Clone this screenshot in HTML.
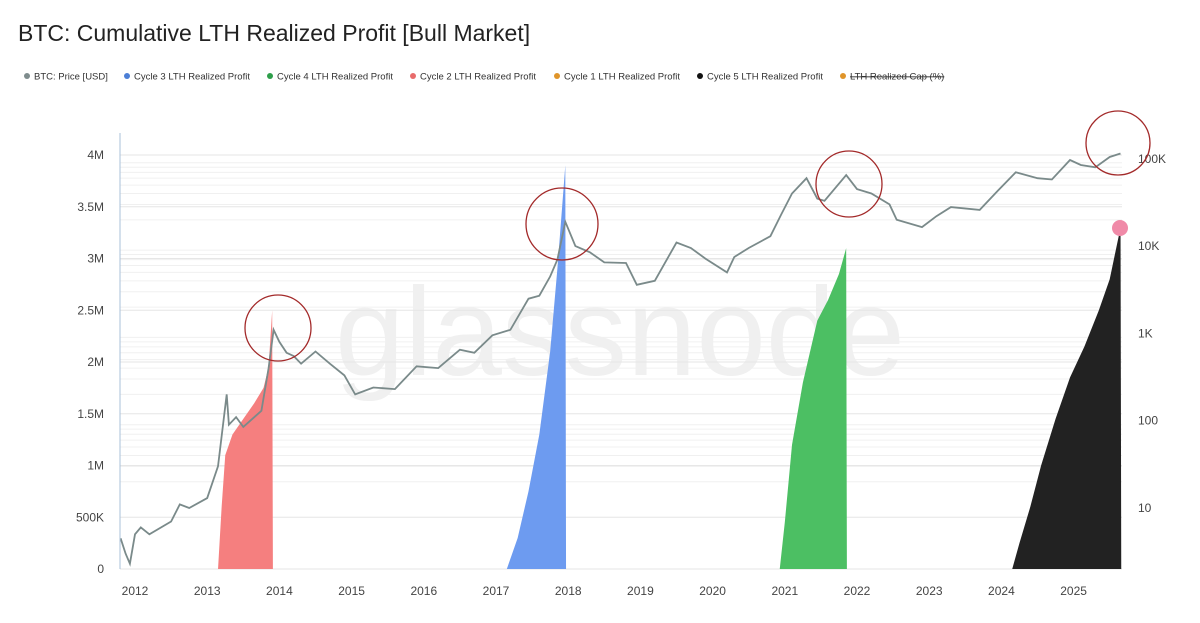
<!DOCTYPE html>
<html><head><meta charset="utf-8"><style>
body{margin:0;background:#fff;width:1200px;height:623px;overflow:hidden;font-family:"Liberation Sans",sans-serif}
</style></head><body>
<svg width="1200" height="623" style="position:absolute;left:0;top:0">
<text x="18" y="41" font-size="23" fill="#222">BTC: Cumulative LTH Realized Profit [Bull Market]</text>
<g id="legend" font-size="9.5" fill="#333"></g>
<text x="620" y="375" font-size="125" fill="#f0f0f0" text-anchor="middle">glassnode</text>
<g id="grid"></g>
<g id="areas"></g>
<g id="price"></g>
<g id="axes" font-size="12" fill="#444"></g>
<g id="ann"></g>
</svg>
<script>
const years=[2012,2013,2014,2015,2016,2017,2018,2019,2020,2021,2022,2023,2024,2025];
const leftTicks=[0,0.5,1,1.5,2,2.5,3,3.5,4];
const leftLabels=["0","500K","1M","1.5M","2M","2.5M","3M","3.5M","4M"];
const rightTicks=[10,100,1000,10000,100000];
const rightLabels=["10","100","1K","10K","100K"];
const priceDates=[2011.8,2011.87,2011.93,2012.0,2012.08,2012.2,2012.5,2012.62,2012.75,2013.0,2013.15,2013.27,2013.3,2013.4,2013.5,2013.75,2013.85,2013.92,2014.0,2014.1,2014.2,2014.3,2014.5,2014.7,2014.9,2015.05,2015.3,2015.6,2015.9,2016.2,2016.5,2016.7,2016.95,2017.2,2017.45,2017.6,2017.75,2017.85,2017.96,2018.1,2018.3,2018.5,2018.8,2018.95,2019.2,2019.5,2019.7,2019.9,2020.2,2020.3,2020.5,2020.8,2020.95,2021.1,2021.3,2021.45,2021.55,2021.85,2022.0,2022.2,2022.45,2022.55,2022.9,2023.1,2023.3,2023.7,2023.95,2024.2,2024.5,2024.7,2024.95,2025.1,2025.3,2025.5,2025.65];
const priceValues=[4.5,3,2.3,5,6,5,7,11,10,13,30,200,90,110,85,130,400,1100,800,600,550,450,620,450,330,200,240,230,420,400,650,600,950,1100,2500,2700,4500,7000,19000,10000,8500,6500,6400,3600,4000,11000,9500,7200,5000,7500,9500,13000,23000,40000,60000,35000,33000,65000,45000,40000,30000,20000,16500,22000,28000,26000,43000,70000,60000,58000,97000,85000,80000,105000,115000];
const c2Dates=[2013.15,2013.2,2013.25,2013.35,2013.5,2013.65,2013.78,2013.85,2013.9,2013.91];
const c2Values=[0,0.6,1.1,1.3,1.45,1.6,1.75,1.95,2.5,0];
const c3Dates=[2017.15,2017.3,2017.45,2017.6,2017.75,2017.85,2017.96,2017.97];
const c3Values=[0,0.3,0.75,1.3,2.1,2.9,3.9,0];
const c4Dates=[2020.93,2021.0,2021.1,2021.25,2021.45,2021.6,2021.75,2021.85,2021.86];
const c4Values=[0,0.45,1.2,1.8,2.4,2.6,2.85,3.1,0];
const c5Dates=[2024.15,2024.25,2024.4,2024.55,2024.75,2024.95,2025.15,2025.35,2025.5,2025.65,2025.66];
const c5Values=[0,0.25,0.6,1.0,1.45,1.85,2.15,2.5,2.8,3.3,0];
const legendNames=["BTC: Price [USD]","Cycle 3 LTH Realized Profit","Cycle 4 LTH Realized Profit","Cycle 2 LTH Realized Profit","Cycle 1 LTH Realized Profit","Cycle 5 LTH Realized Profit","LTH Realized Cap (%)"];
const legendColors=["#7f8c8d","#4c7fd6","#2e9e4a","#e86b6b","#e0952a","#111","#e0952a"];

const NS="http://www.w3.org/2000/svg";
const X=t=>135+(t-2012)*72.2;
const YL=v=>569-v*103.5;
const YR=p=>508-87.3*(Math.log10(p)-1);
function mk(tag,attrs,parent,text){const e=document.createElementNS(NS,tag);for(const k in attrs)e.setAttribute(k,attrs[k]);if(text!==undefined)e.textContent=text;parent.appendChild(e);return e;}
const g=id=>document.getElementById(id);

const lx=[27,127,270,413,557,700,843];
legendNames.forEach((n,i)=>{
 const c=mk('circle',{cx:lx[i],cy:76,r:3,fill:legendColors[i]},g('legend'));
 
 
 const t=mk('text',{x:lx[i]+7,y:79.5},g('legend'),n);
 
 
 if(i==6)t.setAttribute('text-decoration','line-through');
});
leftTicks.forEach(v=>{const l=mk('line',{x1:120,x2:1122,y1:YL(v),y2:YL(v),stroke:'#e6e6e6'},g('grid'));});
for(let d=1;d<6;d++)for(let m=2;m<10;m++){const p=m*Math.pow(10,d);const y=YR(p);if(y<135)continue;const l=mk('line',{x1:120,x2:1122,y1:y,y2:y,stroke:'#f0f0f0'},g('grid'));}
function area(d,v,col,name){let s=`M${X(d[0])},${YL(0)}`;d.forEach((t,i)=>s+=` L${X(t)},${YL(v[i])}`);s+=` L${X(d[d.length-1])},${YL(0)}Z`;const p=mk('path',{d:s,fill:col},g('areas'));}
area(c2Dates,c2Values,'#f57f7f','cycle2-area');
area(c3Dates,c3Values,'#6d9bf0','cycle3-area');
area(c4Dates,c4Values,'#4cbf63','cycle4-area');
area(c5Dates,c5Values,'#222','cycle5-area');
let ps='';priceDates.forEach((t,i)=>ps+=(i?' L':'M')+X(t).toFixed(1)+','+YR(priceValues[i]).toFixed(1));
const pl=mk('path',{d:ps,fill:'none',stroke:'#7a8a8a','stroke-width':1.8},g('price'));

const al=mk('line',{x1:120,x2:120,y1:133,y2:569,stroke:'#aac0d8'},g('axes'));
leftTicks.forEach((v,i)=>{const t=mk('text',{x:104,y:YL(v)+4,'text-anchor':'end'},g('axes'),leftLabels[i]);});
rightTicks.forEach((v,i)=>{const t=mk('text',{x:1138,y:YR(v)+4},g('axes'),rightLabels[i]);});
years.forEach(y=>{const t=mk('text',{x:X(y),y:595,'text-anchor':'middle'},g('axes'),y);});
[[278,328,33],[562,224,36],[849,184,33],[1118,143,32]].forEach(c=>{const e=mk('circle',{cx:c[0],cy:c[1],r:c[2],fill:'none',stroke:'#a32a2a','stroke-width':1.3},g('ann'));});
const pd=mk('circle',{cx:1120,cy:228,r:8,fill:'#f08aa8'},g('ann'));
</script>
</body></html>
